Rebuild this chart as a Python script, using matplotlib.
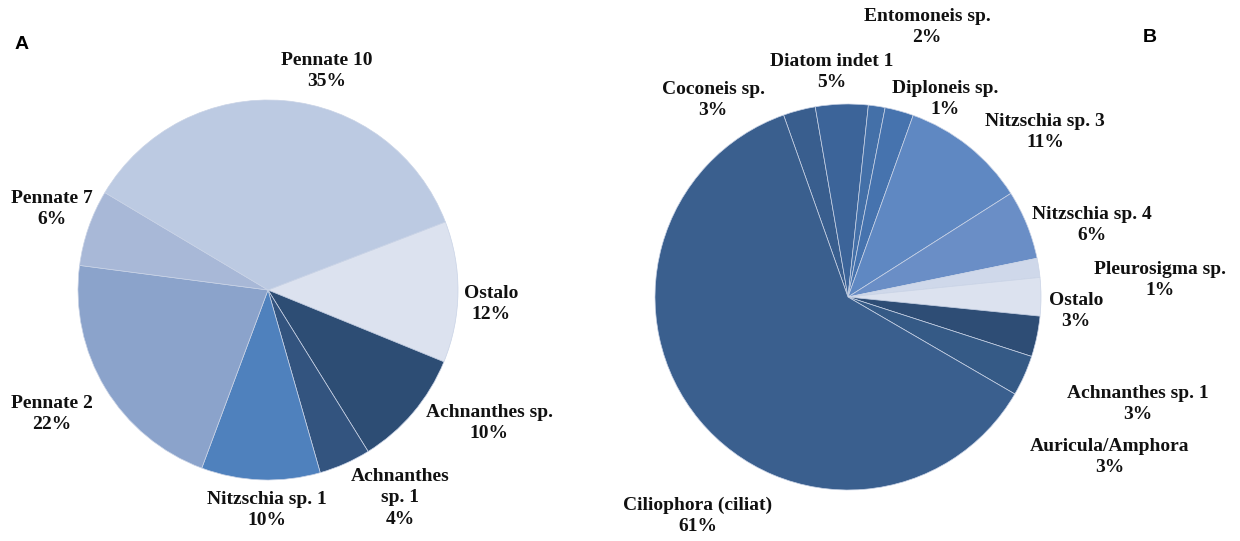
import matplotlib
matplotlib.use("Agg")
import matplotlib.pyplot as plt

# ── Panel A ───────────────────────────────────────────────────────────────────
A_NAMES  = ["Ostalo", "Achnanthes sp.", "Achnanthes\nsp. 1", "Nitzschia sp. 1",
            "Pennate 2", "Pennate 7", "Pennate 10"]
A_VALUES = [12.0, 10.0, 4.4, 10.1, 21.4, 6.5, 35.6]
A_PCT    = ["12%", "10%", "4%", "10%", "22%", "6%", "35%"]
A_COLORS = ["#DCE2EF", "#2D4D74", "#33547F", "#4F81BD",
            "#8BA3CB", "#A8B8D7", "#BCCAE2"]

# ── Panel B ───────────────────────────────────────────────────────────────────
B_NAMES  = ["Coconeis sp.", "Diatom indet 1", "Diploneis sp.", "Entomoneis sp.",
            "Nitzschia sp. 3", "Nitzschia sp. 4", "Pleurosigma sp.", "Ostalo",
            "Achnanthes sp. 1", "Auricula/Amphora", "Ciliophora (ciliat)"]
B_VALUES = [2.7, 4.4, 1.4, 2.4, 10.5, 5.8, 1.6, 3.2, 3.4, 3.4, 61.2]
B_PCT    = ["3%", "5%", "1%", "2%", "11%", "6%", "1%", "3%", "3%", "3%", "61%"]
B_COLORS = ["#395E8E", "#3C6499", "#4470A8", "#4673AE", "#5F88C2", "#6A8EC6",
            "#CFD8EA", "#DCE2EF", "#2E4D75", "#355A86", "#3A5F8E"]

W, H = 1240, 541

# label centres in pixels (layout only)
A_LABEL_XY = [(491, 304), (489, 423), (400, 498), (267, 510),
              (52, 414), (52, 209), (327, 71)]
B_LABEL_XY = [(713, 100), (832, 72), (945, 99), (927, 27), (1045, 132),
              (1092, 225), (1160, 280), (1076, 311), (1138, 404),
              (1110, 457), (698, 516)]


def pie_axes(fig, cx, cy, r):
    ax = fig.add_axes([(cx - r) / W, (H - cy - r) / H, 2 * r / W, 2 * r / H])
    return ax


def draw_pie(ax, values, colors, start):
    ax.pie(values, colors=colors, startangle=start, counterclock=False,
           wedgeprops=dict(edgecolor="#C9D3E6", linewidth=0.5))
    ax.set_xlim(-1, 1)
    ax.set_ylim(-1, 1)
    ax.axis("off")


def put_labels(fig, names, pcts, xy):
    for name, pct, (px, py) in zip(names, pcts, xy):
        fig.text(px / W, 1 - py / H, f"{name}\n{pct}", ha="center", va="center",
                 multialignment="center", family="Liberation Serif",
                 fontweight="bold", fontsize=14, color="#111111", linespacing=1.35)


fig = plt.figure(figsize=(W / 100, H / 100), dpi=100)
fig.patch.set_facecolor("white")

axA = pie_axes(fig, 268, 290, 190)
draw_pie(axA, A_VALUES, A_COLORS, 21.0)
put_labels(fig, A_NAMES, A_PCT, A_LABEL_XY)

axB = pie_axes(fig, 848, 297, 193)
draw_pie(axB, B_VALUES, B_COLORS, 109.5)
put_labels(fig, B_NAMES, B_PCT, B_LABEL_XY)

fig.text(22 / W, 1 - 45 / H, "A", ha="center", va="center",
         family="Liberation Sans", fontweight="bold", fontsize=14)
fig.text(1150 / W, 1 - 38 / H, "B", ha="center", va="center",
         family="Liberation Sans", fontweight="bold", fontsize=14)

fig.savefig("out.png", dpi=100, facecolor="white")
